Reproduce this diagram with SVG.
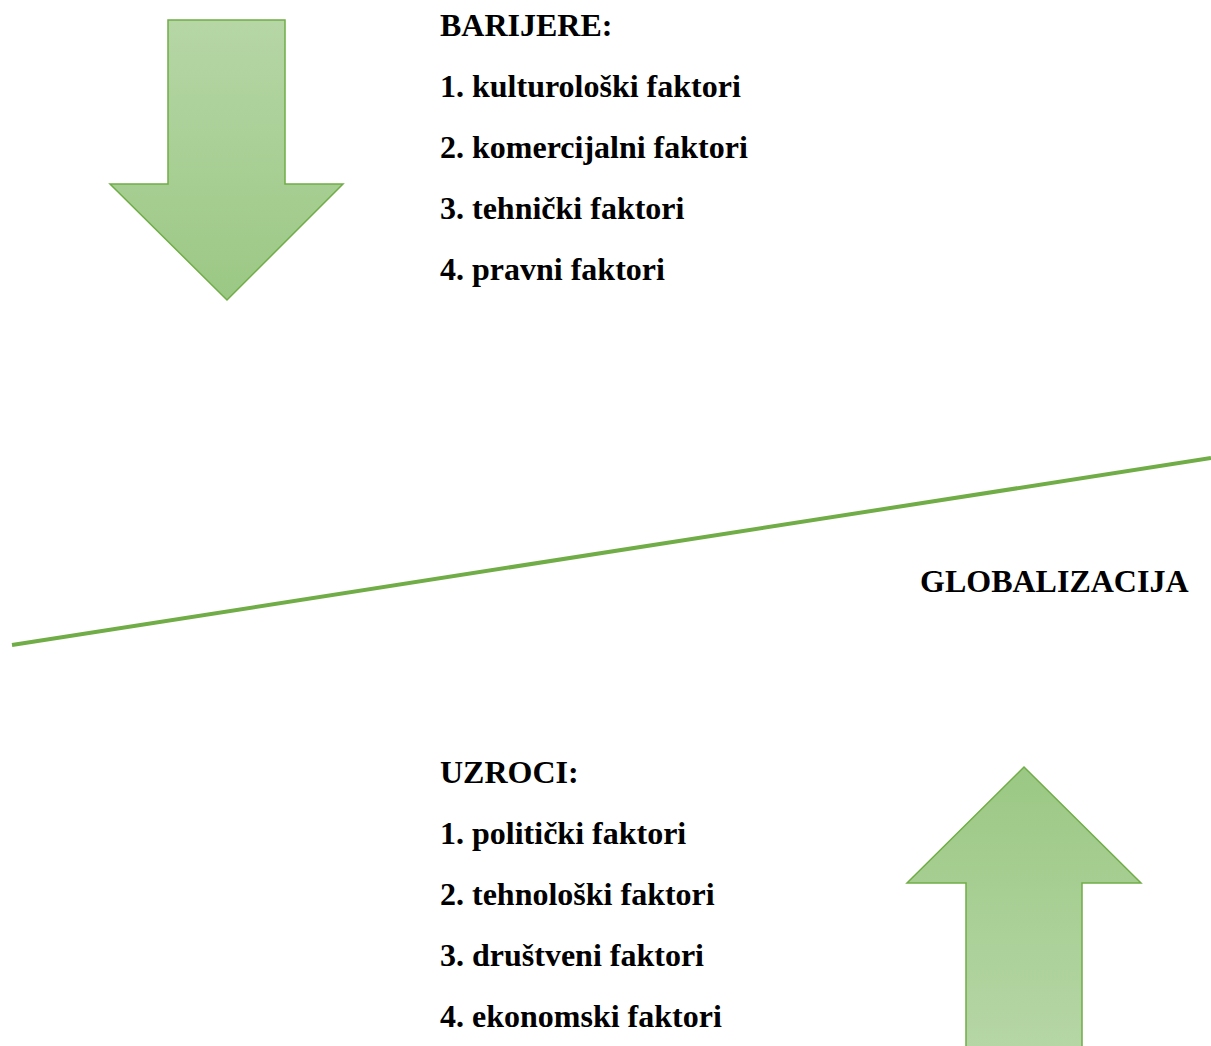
<svg xmlns="http://www.w3.org/2000/svg" width="1211" height="1046" viewBox="0 0 1211 1046">
<style>
.t{font-family:"Liberation Serif","Times New Roman",serif;font-weight:bold;font-size:32px;fill:#000}
.arrow{stroke:#70ad47;stroke-width:1.5}
</style>
<defs>
<linearGradient id="gDown" x1="0" y1="0" x2="0" y2="1"><stop offset="0" stop-color="#b6d6a6"/><stop offset="1" stop-color="#9bc884"/></linearGradient>
<linearGradient id="gUp" x1="0" y1="1" x2="0" y2="0"><stop offset="0" stop-color="#b6d6a6"/><stop offset="1" stop-color="#9bc884"/></linearGradient>
</defs>
<rect width="1211" height="1046" fill="#fff"/>
<g id="arrow-down">
<polygon class="arrow" fill="url(#gDown)" points="168,20 285,20 285,184 343,184 227,300 110,184 168,184"/>
</g>
<g id="arrow-up">
<polygon class="arrow" fill="url(#gUp)" points="1024,767 1141,883 1082,883 1082,1050 966,1050 966,883 907,883"/>
</g>
<g id="connectors">
<line x1="12" y1="645" x2="1211" y2="458" stroke="#70ad47" stroke-width="4"/>
</g>
<g id="barijere">
<text class="t" x="440" y="36">BARIJERE:</text>
<text class="t" x="440" y="97">1. kulturološki faktori</text>
<text class="t" x="440" y="158">2. komercijalni faktori</text>
<text class="t" x="440" y="219">3. tehnički faktori</text>
<text class="t" x="440" y="280">4. pravni faktori</text>
</g>
<g id="globalizacija">
<text class="t" x="920" y="592">GLOBALIZACIJA</text>
</g>
<g id="uzroci">
<text class="t" x="440" y="783">UZROCI:</text>
<text class="t" x="440" y="844">1. politički faktori</text>
<text class="t" x="440" y="905">2. tehnološki faktori</text>
<text class="t" x="440" y="966">3. društveni faktori</text>
<text class="t" x="440" y="1027">4. ekonomski faktori</text>
</g>
</svg>
